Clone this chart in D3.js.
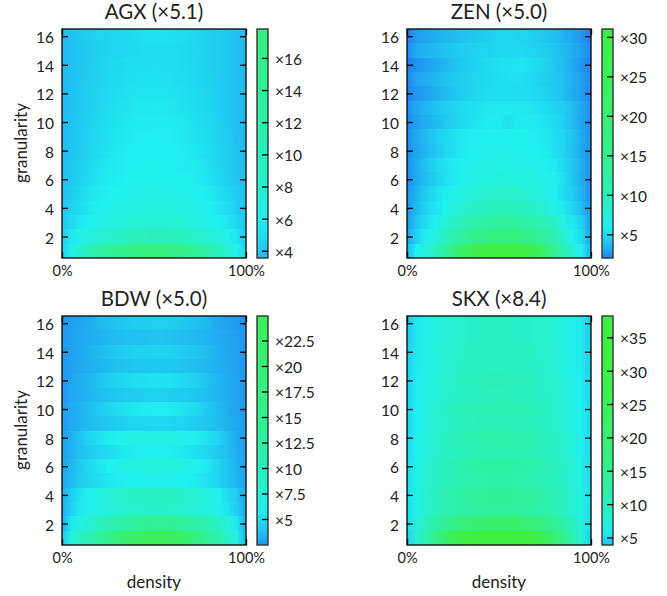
<!DOCTYPE html>
<html>
<head>
<title>granularity vs density</title>
<meta charset="utf-8" />
<script src="https://d3js.org/d3.v7.min.js"></script>
<style>
	body { margin: 0; background: #fff; }
	svg text { font-family: Lato, "Open Sans", sans-serif; fill: #222; }
	.axis text { font-size: 15.5px; transform: translateY(1.5px); }
	.axis path { display: none; }
	.axis line { stroke: #000; stroke-width: 1.3; }
	.xaxis text { font-size: 14.5px; }
	.title { font-size: 20.5px; text-anchor: middle; }
	.label { font-size: 17px; text-anchor: middle; }
</style>
</head>
<body>
<script>
// sample columns along the density axis
var densities = [0,5,10,15,20,25,30,35,40,45,50,55,60,65,70,75,80,85,90,95,100];
// rows are granularity 1 to 16, bottom to top
var granularities = d3.range(1, 17);
var yTicks = [2,4,6,8,10,12,14,16];
var xTicks = [0,100];

var agx = [
[4.5,6.6,8.2,10.1,12.0,13.2,14.6,16.0,17.0,17.5,17.8,17.6,17.0,16.0,14.6,13.1,11.6,10.0,8.0,6.5,4.6],
[4.3,5.5,6.5,7.2,8.0,8.5,9.0,9.5,10.0,10.1,10.3,10.2,10.0,9.6,9.0,8.5,7.9,7.2,6.4,5.4,4.2],
[4.0,4.8,5.5,6.0,6.5,7.0,7.3,7.6,7.8,8.0,8.0,8.0,7.8,7.6,7.3,6.9,6.4,6.0,5.4,4.7,4.0],
[3.9,4.5,5.0,5.6,6.0,6.3,6.6,6.8,7.0,7.1,7.2,7.1,7.0,6.8,6.6,6.3,6.0,5.5,5.0,4.4,3.9],
[3.8,4.3,4.8,5.3,5.7,6.0,6.2,6.4,6.5,6.6,6.7,6.6,6.5,6.4,6.2,6.0,5.7,5.2,4.7,4.2,3.8],
[3.7,4.1,4.5,5.0,5.4,5.7,5.9,6.1,6.2,6.3,6.3,6.3,6.2,6.1,5.9,5.7,5.3,4.9,4.4,4.0,3.7],
[3.7,4.0,4.4,4.8,5.2,5.5,5.7,5.9,6.0,6.1,6.1,6.1,6.0,5.9,5.7,5.5,5.1,4.7,4.3,3.9,3.7],
[3.6,3.9,4.3,4.7,5.0,5.3,5.6,5.8,5.9,6.0,6.0,6.0,5.9,5.8,5.6,5.3,5.0,4.6,4.2,3.9,3.6],
[3.6,3.9,4.2,4.6,4.9,5.2,5.4,5.6,5.8,5.9,5.9,5.9,5.8,5.6,5.4,5.2,4.9,4.5,4.2,3.8,3.6],
[3.6,3.9,4.2,4.5,4.8,5.1,5.3,5.5,5.6,5.7,5.7,5.7,5.6,5.5,5.3,5.0,4.8,4.5,4.1,3.8,3.6],
[3.6,3.8,4.1,4.4,4.7,5.0,5.2,5.3,5.5,5.5,5.6,5.5,5.4,5.3,5.1,4.9,4.7,4.4,4.1,3.8,3.6],
[3.6,3.8,4.1,4.4,4.6,4.9,5.1,5.2,5.3,5.4,5.4,5.4,5.3,5.2,5.0,4.8,4.6,4.3,4.0,3.8,3.6],
[3.6,3.8,4.0,4.3,4.5,4.8,4.9,5.1,5.2,5.3,5.3,5.3,5.2,5.1,4.9,4.7,4.5,4.3,4.0,3.8,3.6],
[3.6,3.8,4.0,4.3,4.5,4.7,4.8,5.0,5.1,5.1,5.2,5.1,5.0,4.9,4.8,4.6,4.4,4.2,4.0,3.8,3.6],
[3.6,3.8,4.0,4.2,4.4,4.6,4.7,4.8,4.9,5.0,5.1,5.1,5.0,4.9,4.7,4.6,4.4,4.2,4.0,3.8,3.6],
[3.6,3.8,4.1,4.3,4.5,4.6,4.7,4.8,5.0,5.2,5.2,5.2,5.1,5.0,4.8,4.6,4.4,4.3,4.0,3.8,3.6]
];

var zen = [
[3.4,6.0,7.2,9.0,12.0,17.0,22.0,27.0,30.0,31.0,31.0,31.0,31.0,30.0,26.0,21.0,15.0,11.0,8.0,6.0,3.0],
[2.8,4.5,5.8,7.0,9.0,11.0,13.0,15.0,16.0,17.0,17.5,17.5,17.0,16.0,15.0,13.0,11.0,8.5,6.0,5.0,2.7],
[2.6,4.0,5.0,6.0,7.5,9.0,10.5,11.5,12.0,12.5,13.0,13.0,12.5,12.0,11.5,10.5,9.0,7.0,5.5,4.5,2.5],
[2.5,3.5,4.5,5.3,6.0,7.0,8.0,8.7,9.2,9.6,10.0,10.0,9.6,9.3,8.6,7.8,6.6,5.6,4.5,3.6,2.4],
[2.4,3.3,4.2,5.0,5.7,6.3,7.0,7.6,8.0,8.3,8.5,8.4,8.2,7.8,7.3,6.6,6.0,5.0,4.2,3.3,2.3],
[2.3,3.0,3.7,4.3,5.0,5.6,6.2,6.6,7.0,7.2,7.4,7.4,7.2,7.0,6.8,6.4,6.0,5.2,4.0,3.1,2.3],
[2.3,3.1,3.9,4.5,5.2,5.7,6.1,6.4,6.6,6.7,6.7,6.7,6.6,6.5,6.3,6.0,5.6,4.8,4.0,3.2,2.3],
[2.2,2.9,3.4,3.9,4.6,5.2,5.6,6.0,6.2,6.4,6.5,6.4,6.3,6.2,6.0,5.7,5.2,4.6,3.8,3.0,2.3],
[2.3,3.0,3.6,4.1,4.7,5.2,5.6,5.9,6.1,6.2,6.2,6.2,6.1,6.0,5.8,5.5,5.1,4.6,3.9,3.1,2.3],
[2.2,2.7,3.1,3.5,4.0,4.5,4.9,5.3,5.5,5.7,5.7,5.1,5.7,5.7,5.6,5.3,4.9,4.3,3.6,2.9,2.2],
[2.3,3.0,3.4,3.8,4.2,4.6,4.9,5.1,5.3,5.5,5.6,5.6,5.5,5.5,5.3,5.0,4.6,4.2,3.6,3.0,2.3],
[2.1,2.5,2.8,3.1,3.5,3.9,4.3,4.6,4.9,5.0,5.1,5.1,5.0,5.0,4.8,4.6,4.2,3.7,3.2,2.6,2.1],
[2.2,2.8,3.1,3.4,3.8,4.1,4.3,4.6,4.7,4.9,5.0,5.2,5.2,5.0,4.7,4.4,4.1,3.7,3.2,2.7,2.2],
[2.0,2.4,2.7,3.0,3.4,3.8,4.1,4.4,4.7,5.0,5.2,5.3,5.4,5.3,5.0,4.6,4.1,3.6,3.0,2.5,2.0],
[2.2,3.0,3.3,3.5,3.8,4.0,4.2,4.4,4.5,4.6,4.7,4.7,4.7,4.6,4.5,4.3,4.0,3.6,3.2,2.7,2.2],
[2.0,2.6,2.9,3.1,3.4,3.6,3.8,4.0,4.2,4.4,4.7,4.7,4.6,4.5,4.3,4.0,3.7,3.3,2.9,2.5,2.0]
];

var bdw = [
[4.0,7.0,9.0,11.0,13.0,15.0,18.0,20.0,22.0,24.0,25.0,25.0,24.0,22.0,19.0,16.0,13.0,11.0,9.0,7.0,3.5],
[3.2,5.5,7.0,8.2,9.5,10.5,11.5,12.5,13.5,14.0,14.3,14.3,14.0,13.5,12.5,11.5,10.5,9.0,7.3,5.5,3.2],
[3.0,4.5,5.5,6.2,6.8,7.3,7.8,8.2,8.5,8.7,8.8,8.8,8.6,8.3,7.9,7.4,6.8,6.2,5.4,4.3,3.0],
[3.0,4.3,5.3,6.2,7.0,7.7,8.2,8.6,9.0,9.2,9.3,9.3,9.1,8.7,8.3,7.7,7.0,6.0,5.0,4.1,3.0],
[2.9,3.6,4.2,4.7,5.1,5.5,5.8,6.0,6.1,6.2,6.2,6.2,6.1,6.0,5.8,5.5,5.1,4.6,4.0,3.4,2.8],
[2.8,3.5,4.2,4.8,5.4,6.0,6.5,6.9,7.1,7.2,7.3,7.3,7.2,6.9,6.5,6.0,5.4,4.6,3.9,3.3,2.8],
[2.7,3.3,3.8,4.2,4.6,5.0,5.3,5.6,5.8,5.9,5.9,5.9,5.8,5.6,5.3,5.0,4.6,4.1,3.7,3.2,2.7],
[2.7,3.3,3.9,4.6,5.2,5.7,6.2,6.5,6.8,6.9,7.0,7.0,6.9,6.6,6.2,5.7,5.1,4.5,3.7,3.1,2.7],
[2.6,3.0,3.3,3.6,3.9,4.1,4.3,4.5,4.6,4.6,4.7,4.7,4.6,4.5,4.3,4.1,3.9,3.6,3.3,2.9,2.6],
[2.6,3.0,3.3,3.7,4.1,4.6,5.0,5.3,5.5,5.7,5.8,5.8,5.7,5.4,5.0,4.6,4.0,3.6,3.2,2.8,2.6],
[2.5,2.9,3.1,3.4,3.7,3.9,4.1,4.2,4.3,4.4,4.4,4.4,4.3,4.2,4.1,3.9,3.6,3.4,3.1,2.8,2.5],
[2.5,2.9,3.2,3.5,3.9,4.3,4.6,4.9,5.1,5.2,5.3,5.3,5.2,4.9,4.6,4.2,3.8,3.4,3.1,2.8,2.5],
[2.5,2.8,3.0,3.2,3.4,3.6,3.8,3.9,4.0,4.0,4.1,4.1,4.0,3.9,3.8,3.6,3.4,3.2,3.0,2.7,2.5],
[2.5,2.8,3.0,3.3,3.6,3.9,4.1,4.3,4.5,4.5,4.6,4.6,4.5,4.3,4.1,3.9,3.5,3.2,2.9,2.7,2.5],
[2.5,2.8,3.0,3.1,3.3,3.5,3.6,3.7,3.8,3.8,3.9,3.9,3.8,3.7,3.6,3.5,3.3,3.1,2.9,2.7,2.5],
[2.5,2.7,2.9,3.1,3.5,3.7,3.9,4.1,4.2,4.3,4.4,4.4,4.3,4.1,3.9,3.7,3.4,3.0,2.8,2.6,2.5]
];

var skx = [
[4.5,8.0,11.0,15.0,20.0,25.0,30.0,34.0,37.0,38.0,38.2,38.0,37.0,34.0,30.0,25.0,20.0,15.0,11.0,8.0,4.5],
[5.0,7.5,9.5,12.0,14.0,16.0,18.0,19.0,20.0,21.0,21.0,21.0,20.0,19.0,18.0,16.0,14.0,12.0,9.5,7.5,5.0],
[5.0,6.8,8.2,9.5,10.5,11.3,12.0,12.6,13.0,13.2,13.3,13.2,13.0,12.6,12.0,11.3,10.5,9.5,8.2,6.8,5.0],
[5.0,6.8,8.2,9.6,10.8,11.8,12.6,13.2,13.7,14.0,14.0,14.0,13.7,13.2,12.6,11.8,10.8,9.6,8.2,6.8,5.0],
[4.8,6.5,7.8,8.8,9.7,10.4,11.0,11.4,11.7,11.9,12.0,11.9,11.7,11.4,11.0,10.4,9.7,8.8,7.8,6.5,4.8],
[4.8,6.5,7.8,9.0,10.0,10.8,11.5,12.0,12.3,12.5,12.6,12.5,12.3,12.0,11.5,10.8,10.0,9.0,7.8,6.5,4.8],
[4.6,6.2,7.3,8.2,9.0,9.7,10.2,10.6,10.9,11.0,11.0,11.0,10.9,10.6,10.2,9.7,9.0,8.2,7.3,6.2,4.6],
[4.6,6.2,7.3,8.3,9.3,10.0,10.7,11.2,11.5,11.7,11.7,11.7,11.5,11.2,10.7,10.0,9.3,8.3,7.3,6.2,4.6],
[4.5,6.0,7.0,7.8,8.6,9.2,9.7,10.0,10.3,10.4,10.4,10.4,10.3,10.0,9.7,9.2,8.6,7.8,7.0,6.0,4.5],
[4.5,6.0,7.0,7.9,8.7,9.5,10.0,10.4,10.7,10.9,11.0,10.9,10.7,10.4,10.0,9.5,8.7,7.9,7.0,6.0,4.5],
[4.4,5.8,6.8,7.5,8.2,8.8,9.2,9.5,9.8,9.9,10.0,9.9,9.8,9.5,9.2,8.8,8.2,7.5,6.8,5.8,4.4],
[4.4,5.8,6.7,7.5,8.2,8.9,9.4,9.7,10.0,10.2,10.2,10.2,10.0,9.7,9.4,8.9,8.2,7.5,6.7,5.8,4.4],
[4.3,5.6,6.5,7.2,7.8,8.4,8.8,9.1,9.3,9.4,9.5,9.4,9.3,9.1,8.8,8.4,7.8,7.2,6.5,5.6,4.3],
[4.2,5.6,6.5,7.2,7.9,8.4,8.9,9.2,9.4,9.5,9.6,9.5,9.4,9.2,8.9,8.4,7.9,7.2,6.5,5.6,4.2],
[4.1,5.5,6.4,7.0,7.6,8.1,8.5,8.8,9.0,9.1,9.2,9.1,9.0,8.8,8.5,8.1,7.6,7.0,6.4,5.5,4.1],
[4.1,5.5,6.4,7.0,7.6,8.1,8.5,8.8,9.0,9.1,9.2,9.1,9.0,8.8,8.5,8.1,7.6,7.0,6.4,5.5,4.1]
];

var titles = ["AGX (×5.1)", "ZEN (×5.0)", "BDW (×5.0)", "SKX (×8.4)"];
var series = [agx, zen, bdw, skx];
var barRanges = [[3.55,17.8],[2,31],[2.45,24.9],[3.87,38.2]];
var barTicks = [
	[4,6,8,10,12,14,16],
	[5,10,15,20,25,30],
	[5,7.5,10,12.5,15,17.5,20,22.5],
	[5,10,15,20,25,30,35]
];

// set the dimensions of each panel
var width = 184, height = 229,
    barGap = 11, barWidth = 11;
var lefts = [62, 407, 62, 407],
    tops = [29, 29, 316, 316];

// one colour scale shared by all the panels
var color = d3.scaleLog()
	.domain([2, 6, 32])
	.range(["#2080f0", "#20f0f0", "#40f040"])
	.clamp(true);

var svg = d3.select("body").append("svg")
	.attr("width", 667)
	.attr("height", 596);
var defs = svg.append("defs");

var x = d3.scaleLinear().domain([0, 100]).range([0, width]);
var y = d3.scaleLinear().domain([0.5, 16.5]).range([height, 0]);

series.forEach(function(rows, p) {
	var g = svg.append("g")
		.attr("transform", "translate(" + lefts[p] + "," + tops[p] + ")");

	// cells, each one shaded from its column value to the next one
	rows.forEach(function(row, r) {
		var cols = densities.slice(0, -1);
		cols.forEach(function(d, c) {
			var id = "g" + p + "-" + r + "-" + c;
			var grad = defs.append("linearGradient").attr("id", id);
			grad.append("stop").attr("offset", 0).attr("stop-color", color(row[c]));
			grad.append("stop").attr("offset", 1).attr("stop-color", color(row[c + 1]));
		});
		g.selectAll(".r" + r)
			.data(cols)
			.enter()
			.append("rect")
			.attr("class", "r" + r)
			.attr("x", function(d) { return x(d); })
			.attr("y", y(granularities[r] + 0.5))
			.attr("width", function(d, c) { return x(densities[c + 1]) - x(d); })
			.attr("height", y(granularities[r] - 0.5) - y(granularities[r] + 0.5))
			.attr("shape-rendering", "crispEdges")
			.attr("fill", function(d, c) { return "url(#g" + p + "-" + r + "-" + c + ")"; });
	});

	// frame
	g.append("rect")
		.attr("width", width)
		.attr("height", height)
		.attr("fill", "none")
		.attr("stroke", "#111")
		.attr("stroke-width", 1.4);

	// Y axis, ticks point inwards on both sides
	g.append("g").attr("class", "axis")
		.call(d3.axisLeft(y).tickValues(yTicks).tickSize(-6).tickPadding(8));
	g.append("g").attr("class", "axis")
		.attr("transform", "translate(" + width + ",0)")
		.call(d3.axisRight(y).tickValues(yTicks).tickSize(-6).tickFormat(""));

	// X axis
	g.append("g").attr("class", "axis xaxis")
		.attr("transform", "translate(0," + height + ")")
		.call(d3.axisBottom(x).tickValues(xTicks).tickSize(-6).tickPadding(6)
			.tickFormat(function(d) { return d + "%"; }));
	g.append("g").attr("class", "axis")
		.call(d3.axisTop(x).tickValues(xTicks).tickSize(-6).tickFormat(""));

	g.append("text").attr("class", "title")
		.attr("x", width / 2)
		.attr("y", -10)
		.text(titles[p]);

	// colour bar
	var bar = g.append("g")
		.attr("transform", "translate(" + (width + barGap) + ",0)");
	var yBar = d3.scaleLinear().domain(barRanges[p]).range([height, 0]);
	var barGrad = defs.append("linearGradient").attr("id", "bar" + p)
		.attr("x1", 0).attr("x2", 0).attr("y1", 1).attr("y2", 0);
	barGrad.selectAll("stop")
		.data(d3.range(0, 1.001, 0.05))
		.enter()
		.append("stop")
		.attr("offset", function(d) { return d; })
		.attr("stop-color", function(d) {
			return color(barRanges[p][0] + d * (barRanges[p][1] - barRanges[p][0]));
		});
	bar.append("rect")
		.attr("width", barWidth)
		.attr("height", height)
		.attr("fill", "url(#bar" + p + ")")
		.attr("stroke", "#333")
		.attr("stroke-width", 1.4);
	bar.append("g").attr("class", "axis")
		.attr("transform", "translate(" + barWidth + ",0)")
		.call(d3.axisRight(yBar).tickValues(barTicks[p]).tickSize(-6).tickPadding(7)
			.tickFormat(function(d) { return "×" + d; }));
});

// shared labels
[143, 430].forEach(function(cy) {
	svg.append("text").attr("class", "label")
		.attr("transform", "translate(27," + cy + ")rotate(-90)")
		.text("granularity");
});
[154, 499].forEach(function(cx) {
	svg.append("text").attr("class", "label")
		.attr("x", cx)
		.attr("y", 588)
		.text("density");
});
</script>
</body>
</html>
